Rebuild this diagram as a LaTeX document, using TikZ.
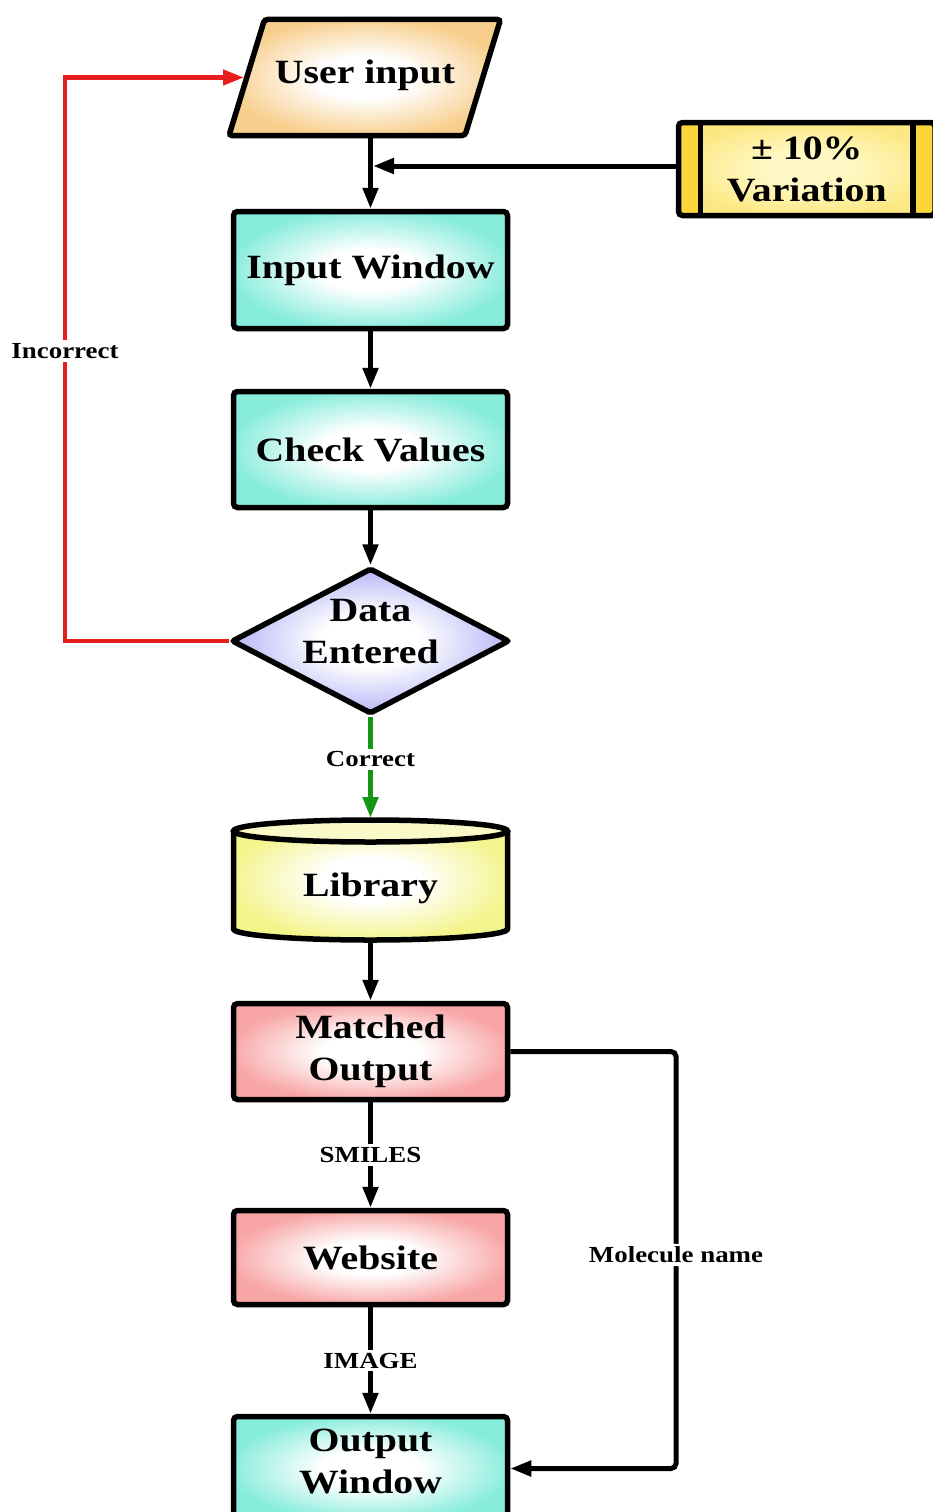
\documentclass[tikz,border=0pt]{standalone}
\usepackage{fontspec}
\setmainfont{Liberation Serif}[FakeStretch=1.17]
\usetikzlibrary{shapes.geometric,arrows.meta,calc}

\definecolor{tealedge}{RGB}{135,236,220}
\definecolor{peach}{RGB}{248,206,140}
\definecolor{lavender}{RGB}{178,178,246}
\definecolor{lemon}{RGB}{244,244,140}
\definecolor{lemontop}{RGB}{250,250,200}
\definecolor{rose}{RGB}{248,165,165}
\definecolor{gold}{RGB}{250,214,60}
\definecolor{goldedge}{RGB}{252,232,130}
\definecolor{goldcore}{RGB}{255,248,196}
\definecolor{redline}{RGB}{232,30,30}
\definecolor{greenline}{RGB}{22,150,22}

% soft radial fill: pale core fading to the edge colour
\colorlet{glowc}{white}
\colorlet{glowin}{white}
\pgfdeclareradialshading[glowin,glowc]{glow}{\pgfpoint{0bp}{0bp}}{%
  color(0bp)=(glowin); color(9bp)=(glowin); color(26bp)=(glowc); color(50bp)=(glowc)}

\tikzset{
  softfill/.style={shade, shading=glow, /utils/exec={\colorlet{glowc}{#1}\colorlet{glowin}{white}}},
  softcore/.style={/utils/exec={\colorlet{glowin}{#1}}},
  boxtext/.style={align=center, font=\fontsize{34}{42}\selectfont\bfseries},
  box/.style={draw, line width=5.5pt, rounded corners=4pt, minimum width=274pt,
    inner sep=0pt, boxtext},
  flow/.style={line width=5pt, -{Triangle[length=21pt,width=15pt]}},
  redflow/.style={line width=4.5pt, draw=redline, -{Triangle[length=21pt,width=15pt]}, color=redline},
  lbl/.style={fill=white, text=black, inner sep=3pt, font=\fontsize{23}{28}\selectfont\bfseries},
}

\begin{document}
\begin{tikzpicture}[x=1pt,y=-1pt]
\useasboundingbox (0,0) rectangle (933,1512);

% input parallelogram
\coordinate (pbl) at (229,135.5);
\coordinate (ptl) at (264.5,19.5);
\coordinate (ptr) at (500.5,19.5);
\coordinate (pbr) at (465,135.5);
\draw[line width=5.5pt, rounded corners=3pt, softfill=peach]
  (pbl) -- (ptl) -- (ptr) -- (pbr) -- cycle;
\coordinate (userin) at (244,77.5);
\coordinate (userout) at (370.5,138);
\node[boxtext, inner sep=0pt] (user) at (365,75) {User input};

% storage cylinder
\path[softfill=lemon]
  (233.5,831) -- (233.5,929)
  arc[start angle=180, end angle=360, x radius=137pt, y radius=11pt]
  -- (507.5,831)
  arc[start angle=0, end angle=180, x radius=137pt, y radius=11pt] -- cycle;
\fill[lemontop] (370.5,831) ellipse[x radius=137pt, y radius=11pt];
\draw[line width=5.5pt, line join=round]
  (233.5,831) -- (233.5,929)
  arc[start angle=180, end angle=360, x radius=137pt, y radius=11pt]
  -- (507.5,831);
\draw[line width=5.5pt] (370.5,831) ellipse[x radius=137pt, y radius=11pt];

% nodes
\node[box, minimum width=256.5pt, minimum height=93pt,
      softfill=goldedge, softcore=goldcore,
      path picture={
        \fill[gold, sharp corners] (path picture bounding box.north west) rectangle
             ([xshift=22pt]path picture bounding box.south west);
        \fill[gold, sharp corners] (path picture bounding box.north east) rectangle
             ([xshift=-22pt]path picture bounding box.south east);
        \draw[line width=5.5pt, sharp corners] ([xshift=22pt]path picture bounding box.north west) --
             ([xshift=22pt]path picture bounding box.south west);
        \draw[line width=5.5pt, sharp corners] ([xshift=-22pt]path picture bounding box.north east) --
             ([xshift=-22pt]path picture bounding box.south east);
      }]
      (var) at (806.75,169) {± 10\%\\Variation};

\node[box, softfill=tealedge, minimum height=117pt] (iw) at (370.5,270) {Input Window};
\node[box, softfill=tealedge, minimum height=116pt] (cv) at (370.5,449.5) {Check Values};

\node[diamond, draw, line width=5.5pt, softfill=lavender, minimum width=278pt,
      minimum height=146pt, inner sep=0pt, rounded corners=2pt,
      label={[boxtext, yshift=9pt]center:{Data\\Entered}}]
      (dec) at (370.5,641) {};

\node[minimum width=279pt, minimum height=124pt, inner sep=0pt, outer sep=0pt,
      label={[boxtext, yshift=-8pt]center:Library}]
      (lib) at (370.5,880) {};

\node[box, softfill=rose, minimum height=96pt] (mo) at (370.5,1051.5) {Matched\\Output};
\node[box, softfill=rose, minimum height=94pt] (web) at (370.5,1257.5) {Website};
\node[box, softfill=tealedge, minimum height=104pt,
      label={[boxtext, yshift=7pt]center:{Output\\Window}}]
      (ow) at (370.5,1468.5) {};

\coordinate (join) at (iw.north |- var.west);
\coordinate (redx) at (65,351);
\coordinate (molx) at (676,1255);

% connectors
\draw[flow] (userout) -- (iw.north);
\draw[flow, shorten >=2.5pt] ([yshift=3pt]var.west) -- ([yshift=3pt]join);
\draw[flow] (iw.south) -- (cv.north);
\draw[flow] (cv.south) -- (dec.north);
\draw[flow, draw=greenline, color=greenline] (dec.south) -- node[lbl, pos=0.42] {Correct} (lib.north);
\draw[redflow] (dec.west) -| (redx) node[lbl] {Incorrect} |- (userin);
\draw[flow] (lib.south) -- (mo.north);
\draw[flow] (mo.south) -- node[lbl] {SMILES} (web.north);
\draw[flow] (web.south) -- node[lbl] {IMAGE} (ow.north);
\draw[flow, rounded corners=5pt] (mo.east) -| (molx) node[lbl] {Molecule name} |- (ow.east);

\end{tikzpicture}
\end{document}
